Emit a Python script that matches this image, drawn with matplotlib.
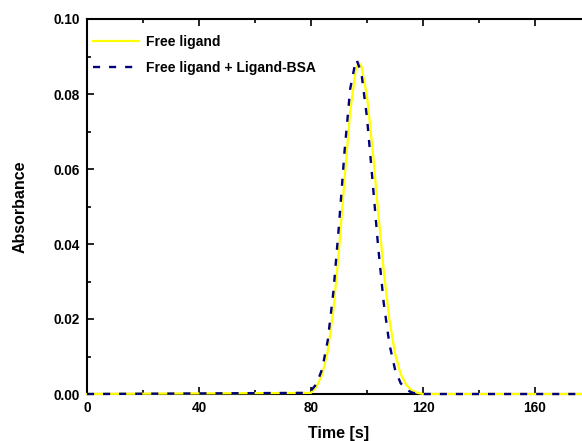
import matplotlib
matplotlib.use("Agg")
import matplotlib.pyplot as plt
from matplotlib.ticker import MultipleLocator, FixedLocator

plt.rcParams['font.family'] = ['Liberation Sans', 'DejaVu Sans']
plt.rcParams['font.weight'] = 'bold'

# Elution profiles (time in s, absorbance)
free_t = [0, 80, 82, 84, 86, 88, 90, 92, 94, 96, 97.1, 98, 100, 102, 104,
          106, 108, 110, 112, 114, 116, 118, 120, 180]
free_a = [0, 0.0003, 0.0020, 0.0052, 0.0115, 0.0224, 0.0384, 0.0575, 0.0753,
          0.0866, 0.0883, 0.0874, 0.0794, 0.0652, 0.0485, 0.0326, 0.0198,
          0.0108, 0.0054, 0.0024, 0.0010, 0.0003, 0, 0]

mix_t = [0, 78, 80, 82, 84, 86, 88, 90, 92, 94, 96, 96.3, 98, 100, 102,
         104, 106, 108, 110, 112, 114, 116, 118, 180]
mix_a = [0, 0.0003, 0.0009, 0.0027, 0.0067, 0.0144, 0.0273, 0.0451, 0.0649,
         0.0814, 0.0890, 0.0891, 0.0856, 0.0737, 0.0567, 0.0391, 0.0241,
         0.0133, 0.0066, 0.0029, 0.0012, 0.0004, 0, 0]

x_major = [0, 40, 80, 120, 160]
y_major = [0.00, 0.02, 0.04, 0.06, 0.08, 0.10]

fig = plt.figure(figsize=(5.82, 4.41), dpi=100)
# the plot frame runs slightly past the right edge of the figure
ax = fig.add_axes([87 / 582, 1 - 394 / 441, 504 / 582, 375 / 441])

ax.plot(free_t, free_a, color='#FFFF00', lw=1.6, label='Free ligand',
        clip_on=False, zorder=3)
ax.plot(mix_t, mix_a, color='#000080', lw=1.7, ls=(0, (3, 3.8)),
        label='Free ligand + Ligand-BSA', clip_on=False, zorder=4)

ax.set_xlim(0, 180)
ax.set_ylim(0, 0.10)
ax.xaxis.set_major_locator(FixedLocator(x_major))
ax.xaxis.set_minor_locator(MultipleLocator(20))
ax.yaxis.set_major_locator(FixedLocator(y_major))
ax.yaxis.set_minor_locator(MultipleLocator(0.01))
ax.set_xticklabels([str(v) for v in x_major])
ax.set_yticklabels([f'{v:.2f}' for v in y_major])

for s in ax.spines.values():
    s.set_linewidth(1.5)
ax.tick_params(which='both', direction='in', top=True, right=True, width=1.2,
               labelsize=9.8, pad=5)
ax.tick_params(which='major', length=5)
ax.tick_params(which='minor', length=3)

ax.set_xlabel('Time [s]', fontsize=11.5, fontweight='bold', labelpad=8)
ax.set_ylabel('Absorbance', fontsize=11.5, fontweight='bold', labelpad=19)

ax.legend(loc='upper left', bbox_to_anchor=(0.012, 0.957), frameon=False,
          prop={'size': 10, 'weight': 'bold'}, handlelength=3.3,
          handletextpad=0.5, labelspacing=0.88, borderaxespad=0.0,
          borderpad=0.0)

fig.savefig('out.png', dpi=100)
